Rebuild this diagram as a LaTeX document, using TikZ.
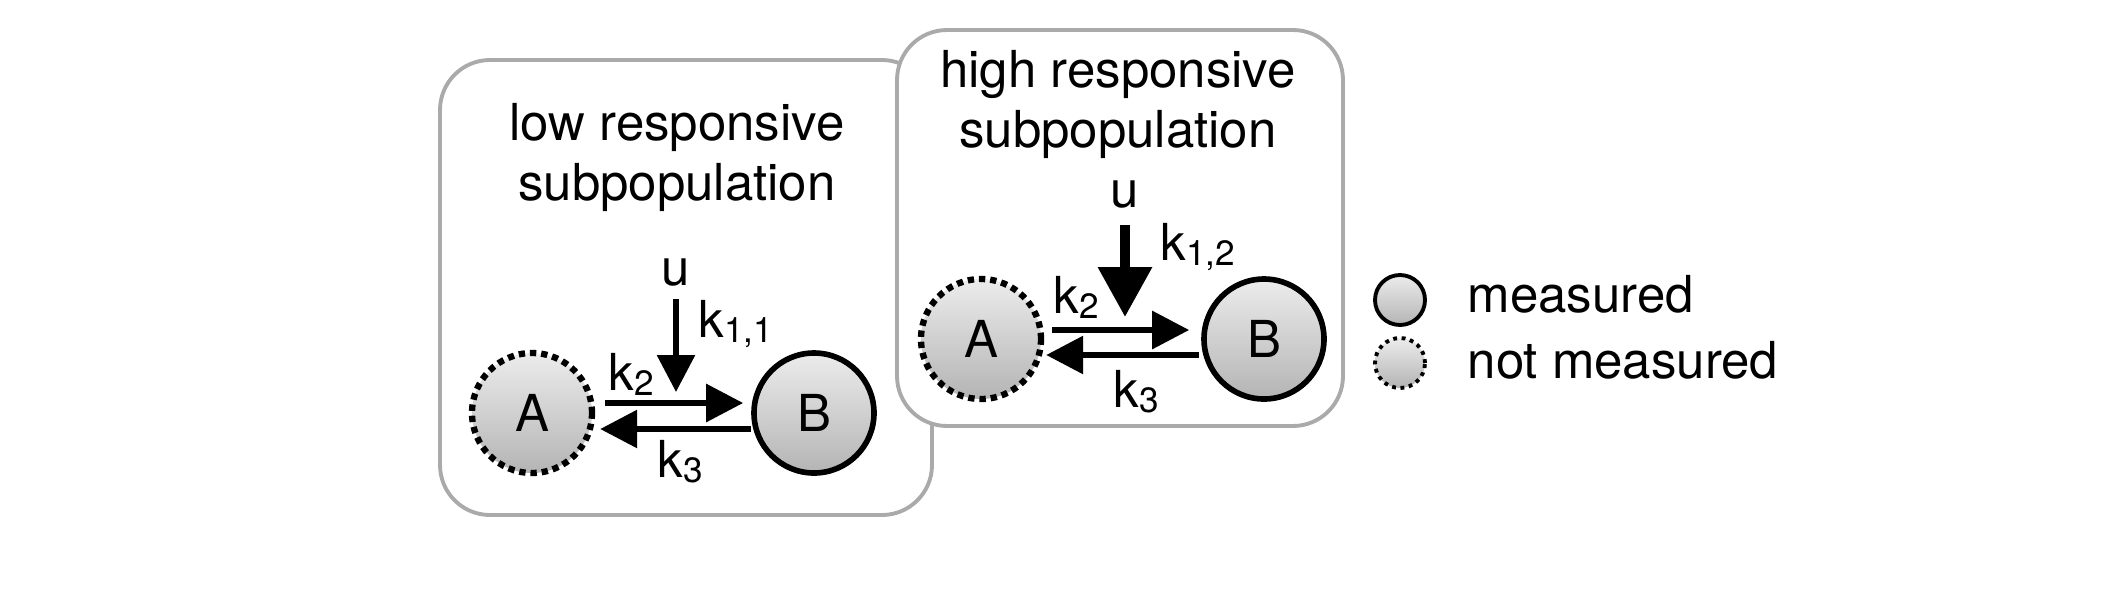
\documentclass[tikz,border=0pt]{standalone}
\usepackage{fontspec}
\setmainfont{TeX Gyre Heros}
\usetikzlibrary{arrows.meta, positioning}
\definecolor{boxgray}{RGB}{170,170,170}
\definecolor{shadetop}{RGB}{236,236,236}
\definecolor{shadebot}{RGB}{180,180,180}
\newcommand{\subidx}[1]{\raisebox{-0.05cm}{\fontsize{10}{10}\selectfont #1}}

\begin{document}
\begin{tikzpicture}[font=\fontsize{14.5}{17}\selectfont,
  panel/.style={draw=boxgray, line width=1.1pt, fill=white, rounded corners=0.5cm},
  species/.style={circle, draw=black, minimum size=1.2cm, inner sep=0, line width=1.6pt,
    top color=shadetop, bottom color=shadebot},
  hidden/.style={species, line width=1.8pt, dash pattern=on 1.8pt off 1.4pt},
  keyspec/.style={species, minimum size=0.5cm, line width=1.1pt},
  keyhidden/.style={keyspec, dash pattern=on 1.1pt off 1.3pt},
  flux/.style={-{Triangle[length=0.37cm,width=0.37cm]}, line width=1.7pt},
  influx/.style={-{Triangle[length=0.5cm,width=0.52cm]}, line width=2.8pt},
  lbl/.style={inner sep=0, anchor=base west},
  title/.style={inner sep=0, align=center, anchor=north}]
  \useasboundingbox (0,0) rectangle (21.04,-6.06);

  % low responsive subpopulation
  \draw[panel] (4.40,-0.60) rectangle (9.32,-5.15);
  \node[title] (lowtitle) at (6.77,-1.03) {low responsive\\subpopulation};
  \node[hidden] (Alow) at (5.32,-4.13) {A};
  \node[species] (Blow) at (8.14,-4.13) {B};
  \node[inner sep=0, anchor=base] (ulow) at (6.76,-2.85) {u};
  \coordinate (tiplow) at (6.76,-3.92);
  \draw[flux, shorten <=0.13cm] (ulow.south) -- (tiplow);
  \draw[flux, shorten <=0.1cm, shorten >=0.08cm] ([yshift=0.1cm]Alow.east) -- ([yshift=0.1cm]Blow.west);
  \draw[flux, shorten >=0.05cm] ([yshift=-0.16cm]Blow.west) -- ([yshift=-0.16cm]Alow.east);
  \node[lbl] (k11) at (6.98,-3.37) {k\subidx{1,1}};
  \node[lbl] (k2low) at (6.08,-3.90) {k\subidx{2}};
  \node[lbl] (k3low) at (6.57,-4.77) {k\subidx{3}};

  % high responsive subpopulation
  \draw[panel] (8.97,-0.30) rectangle (13.43,-4.26);
  \node[title] (hightitle) at (11.18,-0.50) {high responsive\\subpopulation};
  \node[hidden] (Ahigh) at (9.81,-3.39) {A};
  \node[species] (Bhigh) at (12.64,-3.39) {B};
  \node[inner sep=0, anchor=base] (uhigh) at (11.25,-2.07) {u};
  \coordinate (tiphigh) at (11.25,-3.17);
  \draw[influx, shorten <=0.17cm] (uhigh.south) -- (tiphigh);
  \draw[flux, shorten <=0.08cm, shorten >=0.12cm] ([yshift=0.09cm]Ahigh.east) -- ([yshift=0.09cm]Bhigh.west);
  \draw[flux, shorten <=0.02cm, shorten >=0.02cm] ([yshift=-0.16cm]Bhigh.west) -- ([yshift=-0.16cm]Ahigh.east);
  \node[lbl] (k12) at (11.60,-2.60) {k\subidx{1,2}};
  \node[lbl] (k2high) at (10.53,-3.13) {k\subidx{2}};
  \node[lbl] (k3high) at (11.13,-4.07) {k\subidx{3}};

  % legend
  \node[keyspec] (keymeas) at (14.00,-3.00) {};
  \node[keyhidden] (keynot) at (14.00,-3.63) {};
  \node[lbl] (measlbl) at (14.67,-3.12) {measured};
  \node[lbl] (notlbl) at (14.67,-3.78) {not measured};
\end{tikzpicture}
\end{document}
